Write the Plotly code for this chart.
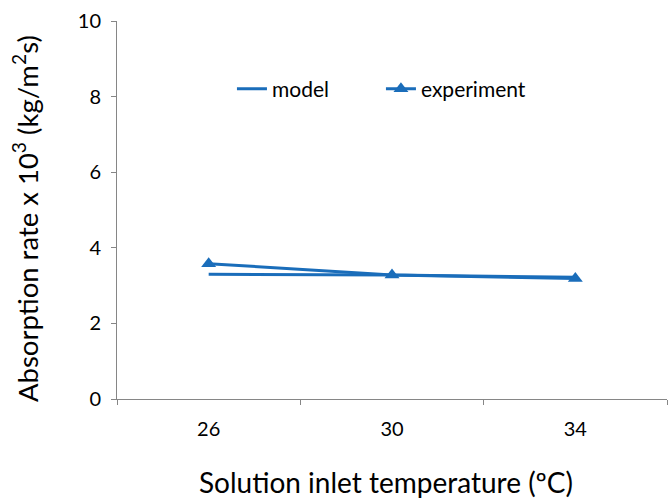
import plotly.graph_objects as go

# Solution inlet temperature categories (ºC)
temperatures = ["26", "30", "34"]
# Absorption rate x 10^3 (kg/m^2 s)
model_rate = [3.30, 3.28, 3.22]
experiment_rate = [3.58, 3.28, 3.19]

x_title = "Solution inlet temperature (ºC)"
y_title = "Absorption rate x 10<sup>3</sup> (kg/m<sup>2</sup>s)"

blue = "#1a6dba"
axis_gray = "#868686"
font_family = "Lato, 'Open Sans', sans-serif"

fig = go.Figure()
fig.add_trace(go.Scatter(
    x=temperatures, y=model_rate, name="model", mode="lines",
    line=dict(color=blue, width=3),
))
fig.add_trace(go.Scatter(
    x=temperatures, y=experiment_rate, name="experiment", mode="lines+markers",
    line=dict(color=blue, width=3),
    marker=dict(symbol="triangle-up", size=13, color=blue),
))

fig.update_layout(
    width=670, height=499,
    margin=dict(l=117, r=3, t=21, b=100),
    paper_bgcolor="white", plot_bgcolor="white",
    font=dict(family=font_family, size=20, color="#000000"),
    showlegend=True,
    legend=dict(
        orientation="h", x=0.209, y=0.82, xanchor="left", yanchor="middle",
        bgcolor="rgba(0,0,0,0)", font=dict(size=21),
        entrywidth=104, entrywidthmode="pixels",
    ),
    xaxis=dict(
        type="category", range=[-0.5, 2.5], tickson="boundaries",
        showline=True, linecolor=axis_gray, linewidth=1,
        ticks="outside", ticklen=5, tickcolor=axis_gray,
        ticklabelstandoff=12,
        showgrid=False, zeroline=False, automargin=False,
    ),
    yaxis=dict(
        range=[0, 10], dtick=2, tick0=0,
        showline=True, linecolor=axis_gray, linewidth=1,
        ticks="outside", ticklen=5, tickcolor=axis_gray,
        ticklabelstandoff=6,
        showgrid=False, zeroline=False, automargin=False,
    ),
    annotations=[
        # horizontal axis title
        dict(text=x_title, xref="paper", yref="paper", x=0.489, y=-0.22,
             xanchor="center", yanchor="middle", showarrow=False,
             font=dict(size=28)),
        # vertical axis title
        dict(text=y_title, xref="paper", yref="paper", x=-0.166, y=0.478,
             xanchor="center", yanchor="middle", showarrow=False,
             textangle=-90, font=dict(size=27.5)),
    ],
)

fig.write_html("out.html")
